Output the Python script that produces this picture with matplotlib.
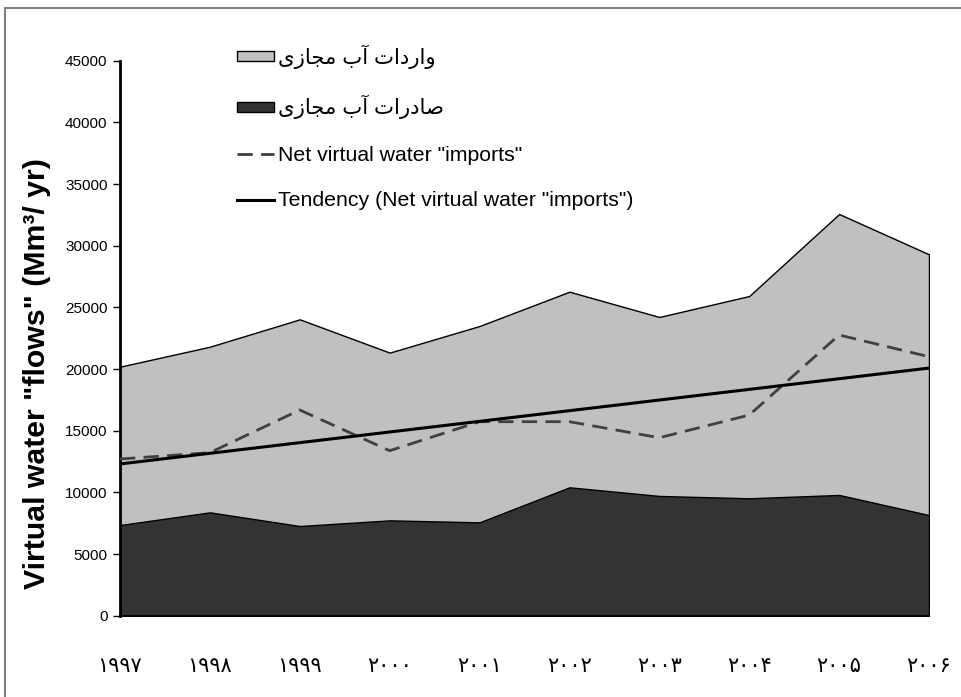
import numpy as np
import matplotlib
matplotlib.use("Agg")
import matplotlib.pyplot as plt
from matplotlib.patches import Rectangle

years = [1997, 1998, 1999, 2000, 2001, 2002, 2003, 2004, 2005, 2006]
year_labels = ["\u06f1\u06f9\u06f9\u06f7", "\u06f1\u06f9\u06f9\u06f8", "\u06f1\u06f9\u06f9\u06f9",
               "\u06f2\u06f0\u06f0\u06f0", "\u06f2\u06f0\u06f0\u06f1", "\u06f2\u06f0\u06f0\u06f2",
               "\u06f2\u06f0\u06f0\u06f3", "\u06f2\u06f0\u06f0\u06f4", "\u06f2\u06f0\u06f0\u06f5",
               "\u06f2\u06f0\u06f0\u06f6"]
imports_vw = [20190, 21810, 24030, 21330, 23490, 26270, 24220, 25920, 32570, 29300]
exports_vw = [7350, 8380, 7270, 7730, 7570, 10410, 9710, 9520, 9790, 8160]
net_imports = [12705, 13220, 16680, 13380, 15730, 15730, 14430, 16270, 22760, 21000]
yticks = [0, 5000, 10000, 15000, 20000, 25000, 30000, 35000, 40000, 45000]

# Persian labels (presentation forms in visual order)
lab_imports = "\uFEEF\uFEAF\uFE8E\uFEA0\uFEE3 \uFE8F\uFE81 \uFE95\uFE8D\uFEA9\uFEAD\uFE8D\uFEED"
lab_exports = "\uFEEF\uFEAF\uFE8E\uFEA0\uFEE3 \uFE8F\uFE81 \uFE95\uFE8D\uFEAD\uFEA9\uFE8E\uFEBB"
lab_net = 'Net virtual water "imports"'
lab_trend = 'Tendency (Net virtual water "imports")'
ylabel = 'Virtual water "flows" (Mm\u00b3/ yr)'

fam = ['Liberation Sans', 'DejaVu Sans']
plt.rcParams['font.family'] = fam

fig = plt.figure(figsize=(9.62, 6.97), dpi=100)
ax = fig.add_axes([120/962, 1 - 615.7/697, (929-120)/962, (615.7-60.7)/697])

x = np.array(years, dtype=float)
ax.fill_between(x, 0, imports_vw, facecolor='#C0C0C0', edgecolor='black', linewidth=1.0,
                label=lab_imports, zorder=1)
ax.fill_between(x, 0, exports_vw, facecolor='#333333', edgecolor='black', linewidth=1.0,
                label=lab_exports, zorder=2)
ax.plot(x, net_imports, color='#404040', linewidth=2.0, dashes=(5.5, 3), label=lab_net, zorder=3)
coef = np.polyfit(x, net_imports, 1)
ax.plot(x, np.polyval(coef, x), color='black', linewidth=2.2, label=lab_trend, zorder=4)

ax.set_xlim(1997, 2006)
ax.set_ylim(0, 45000)
ax.set_yticks(yticks)
ax.set_yticklabels([str(v) for v in yticks], fontsize=11, family=['Liberation Sans', 'DejaVu Sans'])
ax.set_xticks(x)
ax.set_xticklabels(year_labels, fontsize=15, family=['DejaVu Sans'])
ax.tick_params(axis='x', length=0, pad=29)
ax.tick_params(axis='y', length=5, width=1, direction='out', pad=4)
for s in ['top', 'right']:
    ax.spines[s].set_visible(False)
ax.spines['left'].set_linewidth(2)
ax.spines['bottom'].set_linewidth(1.2)
ax.set_ylabel(ylabel, fontsize=21.8, fontweight='bold', family=['Liberation Sans', 'DejaVu Sans'])
ax.yaxis.set_label_coords((51 - 120) / 809, (615.7 - 374) / 555)

leg = ax.legend(loc='upper left', bbox_to_anchor=((237-120)/809 - 0.0105, 1.045), frameon=False,
                prop={'family': fam, 'size': 15.3}, handlelength=1.75, handleheight=0.37,
                handletextpad=0.2, labelspacing=1.24, borderaxespad=0)

fig.patches.append(Rectangle((5/962, -0.1), 1.2, 1 - 8/697 + 0.1, transform=fig.transFigure,
                             fill=False, edgecolor='#808080', linewidth=1.5))

fig.savefig('out.png', dpi=100)
